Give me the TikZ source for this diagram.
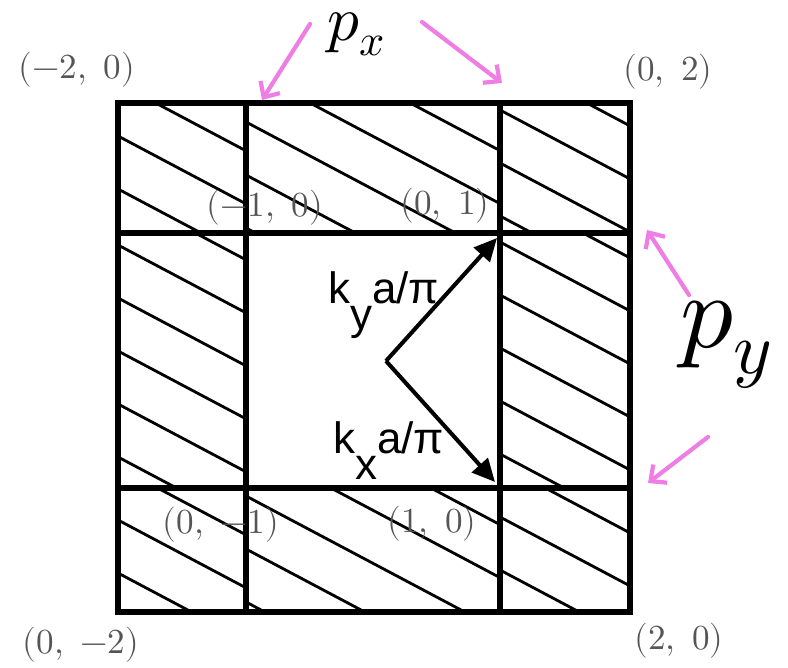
\documentclass[tikz,border=0pt]{standalone}
\usepackage{fontspec}
\usepackage{unicode-math}
\newfontfamily\kfont{Liberation Sans}
\usetikzlibrary{arrows.meta}

\definecolor{pinkarrow}{RGB}{238,125,228}
\definecolor{coordgray}{RGB}{85,85,85}

\tikzset{
  grid line/.style={line width=3pt, line cap=rect},
  hatch line/.style={line width=1.6pt},
  kvec/.style={line width=2.3pt, -{Triangle[length=13pt,width=12pt]}},
  pinkarr/.style={pinkarrow, line width=2.4pt, line cap=round, -{Straight Barb[length=7pt,width=13pt]}},
  coordlbl/.style={coordgray, font=\fontsize{20}{22}\selectfont, inner sep=0pt},
  klbl/.style={font=\kfont\fontsize{25}{28}\selectfont, inner sep=0pt, anchor=base west},
  plbl/.style={inner sep=0pt, anchor=base west},
}

\begin{document}
\begin{tikzpicture}[x=0.02cm, y=-0.02cm]
  \useasboundingbox (0,0) rectangle (788,667);

  % hatching of the eight outer cells
  \foreach \xa/\ya/\xb/\yb/\ph in {118/103/246/233/33, 246/103/500/233/19, 500/103/630/233/7,
      118/233/246/488/12, 500/233/630/488/9,
      118/488/246/612/32, 246/488/500/612/8, 500/488/630/612/29} {
    \begin{scope}
      \clip (\xa,\ya) rectangle (\xb,\yb);
      \foreach \k in {-4,...,5}
        \draw[hatch line] (\xa,{\ya+\ph+\k*53}) -- ++({\xb-\xa},{0.53*(\xb-\xa)});
    \end{scope}
  }

  % grid
  \coordinate (tl) at (118,103);
  \coordinate (br) at (630,612);
  \draw[grid line] (tl) rectangle (br);
  \draw[grid line] (246,103) -- (246,612);% left inner line
  \draw[grid line] (500,103) -- (500,612);% right inner line
  \draw[grid line] (118,233) -- (630,233);% top inner line
  \draw[grid line] (118,488) -- (630,488);% bottom inner line

  % vectors
  \coordinate (origin) at (386,361);
  \coordinate (ky tip) at (497,238);
  \coordinate (kx tip) at (495,482);
  \draw[kvec] (origin) -- (ky tip);
  \draw[kvec] (origin) -- (kx tip);
  \node[klbl] (kylbl) at (328,303) {k\raisebox{-0.6em}{y}a/π};
  \node[klbl] (kxlbl) at (333,453) {k\raisebox{-0.6em}{x}a/π};

  % corner labels
  \node[coordlbl] (lm2z) at (77,70) {$(-2,\ 0)$};
  \node[coordlbl] (lz2) at (668,72) {$(0,\ 2)$};
  \node[coordlbl] (lm1z) at (265,208) {$(-1,\ 0)$};
  \node[coordlbl] (lz1) at (445,206) {$(0,\ 1)$};
  \node[coordlbl] (lzm1) at (221,525) {$(0,\ -1)$};
  \node[coordlbl] (l1z) at (432,524) {$(1,\ 0)$};
  \node[coordlbl] (lzm2) at (81,645) {$(0,\ -2)$};
  \node[coordlbl] (l2z) at (679,641) {$(2,\ 0)$};

  % p labels with pink arrows
  \node[plbl, font=\fontsize{36}{40}\selectfont] (px) at (327,40) {$p_x$};
  \node[plbl, font=\fontsize{60}{66}\selectfont] (py) at (680,347) {$p_y$};
  \coordinate (pxl tail) at (310,24);
  \coordinate (pxl tip) at (262,100);
  \coordinate (pxr tail) at (422,22);
  \coordinate (pxr tip) at (502,83);
  \coordinate (pyu tail) at (689,295);
  \coordinate (pyu tip) at (647,230);
  \coordinate (pyd tail) at (708,437);
  \coordinate (pyd tip) at (648,483);
  \draw[pinkarr] (pxl tail) -- (pxl tip);
  \draw[pinkarr] (pxr tail) -- (pxr tip);
  \draw[pinkarr] (pyu tail) -- (pyu tip);
  \draw[pinkarr] (pyd tail) -- (pyd tip);
\end{tikzpicture}
\end{document}
